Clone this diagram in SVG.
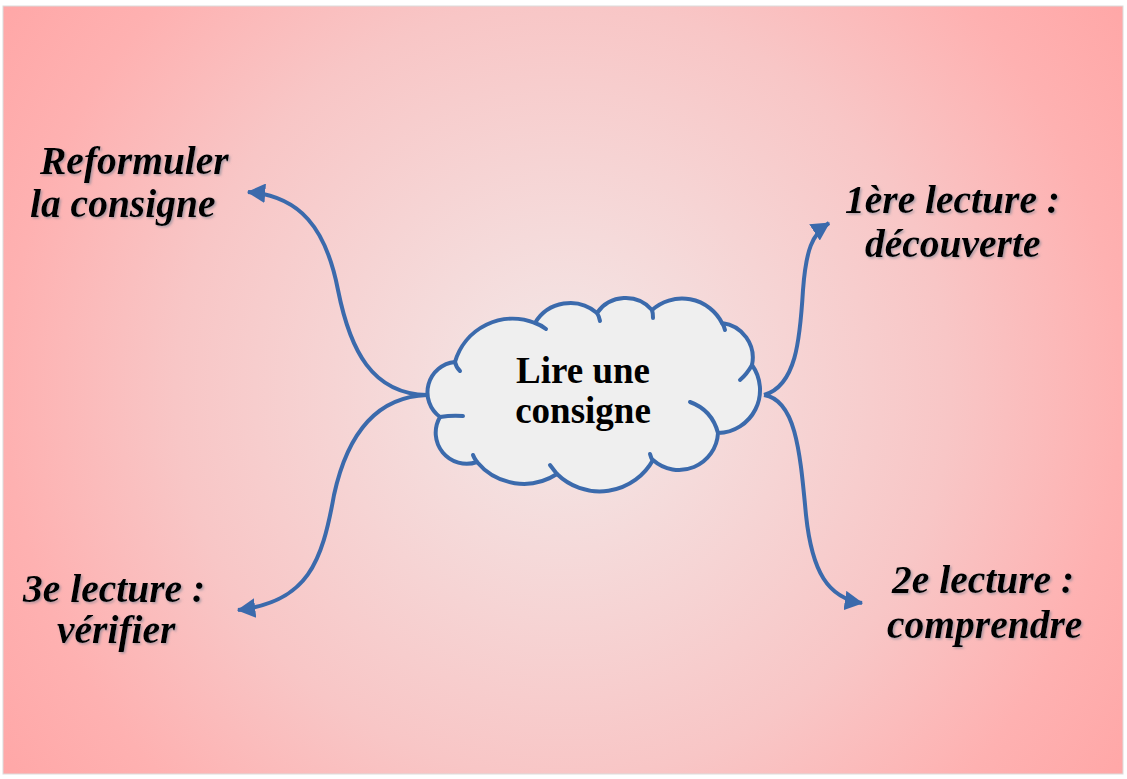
<svg xmlns="http://www.w3.org/2000/svg" width="1127" height="779" viewBox="0 0 1127 779">
<defs>
<radialGradient id="bg" gradientUnits="userSpaceOnUse" cx="563" cy="390" r="680">
<stop offset="0" stop-color="#f3e8e8"/>
<stop offset="0.57" stop-color="#f8c6c6"/>
<stop offset="0.82" stop-color="#feb1b1"/>
<stop offset="1" stop-color="#ffa7a7"/>
</radialGradient>
<filter id="sh" x="-10%" y="-30%" width="120%" height="160%">
<feDropShadow dx="1.5" dy="1.5" stdDeviation="0.8" flood-color="#6a7a8a" flood-opacity="0.55"/>
</filter>
<marker id="arr" viewBox="0 0 16 17" refX="15" refY="8.5" markerWidth="4.6" markerHeight="4.9" markerUnits="strokeWidth" orient="auto">
<path d="M0,0 L16,8.5 L0,17 Z" fill="#3b6aac"/>
</marker>
<style>
.lbl{font-family:"Liberation Serif","Times New Roman",serif;font-weight:bold;font-style:italic;font-size:39.5px;fill:#000;filter:url(#sh)}
.ctr{font-family:"Liberation Serif","Times New Roman",serif;font-weight:bold;font-size:37px;fill:#000;text-anchor:middle}
.con{fill:none;stroke:#3b6aac;stroke-width:4;stroke-linecap:butt}
.cl{fill:#efefef;stroke:#3b6aac;stroke-width:4;stroke-linejoin:round}
.stub{fill:none;stroke:#3b6aac;stroke-width:4;stroke-linecap:round}
</style>
</defs>
<rect x="0" y="0" width="1127" height="779" fill="#ffffff"/>
<rect x="3" y="6" width="1120" height="768" fill="url(#bg)" stroke="#dcdcdc" stroke-width="1"/>

<g id="connectors">
<path class="con" marker-end="url(#arr)" d="M427,395 C372,394 350,350 338,290 C326,228 300,196 248,192"/>
<path class="con" marker-end="url(#arr)" d="M427,395 C372,397 346,440 334,495 C322,562 308,602 238,610"/>
<path class="con" marker-end="url(#arr)" d="M764,395 C796,386 800,340 803,290 C806,250 812,234 829,223"/>
<path class="con" marker-end="url(#arr)" d="M764,395 C796,400 800,452 806,515 C812,572 828,598 862,603"/>
</g>

<g id="node-center">
<path class="cl" d="M455,362
A60,60 0 0 1 535,323
A41,41 0 0 1 597,313
A35,35 0 0 1 652,310
A45,45 0 0 1 722,323
A35,35 0 0 1 752,365
A43,43 0 0 1 718,433
A39,39 0 0 1 653,460
A61,61 0 0 1 557,474
A61,61 0 0 1 477,462
A31,31 0 0 1 440,417
A30.5,30.5 0 0 1 455,362 Z"/>
<path class="stub" d="M455,362 Q456,367 460,371"/>
<path class="stub" d="M535,323 Q541,325 546,329"/>
<path class="stub" d="M597,313 Q599,316 600,321"/>
<path class="stub" d="M652,310 Q653,313 653,318"/>
<path class="stub" d="M722,323 Q724,326 725,330"/>
<path class="stub" d="M752,365 Q747,374 740,380"/>
<path class="stub" d="M690,402 Q712,410 718,433"/>
<path class="stub" d="M653,461 Q651,458 650,454"/>
<path class="stub" d="M557,474 Q553,469 550,465"/>
<path class="stub" d="M477,462 Q474,458 473,455"/>
<path class="stub" d="M440,417 Q452,415 463,416"/>
<text class="ctr" x="583" y="383">Lire une</text>
<text class="ctr" x="583" y="423">consigne</text>
</g>

<g id="node-reformuler">
<text class="lbl" x="40" y="174">Reformuler</text>
<text class="lbl" x="30" y="217">la consigne</text>
</g>
<g id="node-1ere">
<text class="lbl" x="845" y="213">1ère lecture :</text>
<text class="lbl" x="865" y="257">découverte</text>
</g>
<g id="node-2e">
<text class="lbl" x="892" y="593">2e lecture :</text>
<text class="lbl" x="887" y="638">comprendre</text>
</g>
<g id="node-3e">
<text class="lbl" x="23" y="602">3e lecture :</text>
<text class="lbl" x="57" y="643">vérifier</text>
</g>
</svg>
